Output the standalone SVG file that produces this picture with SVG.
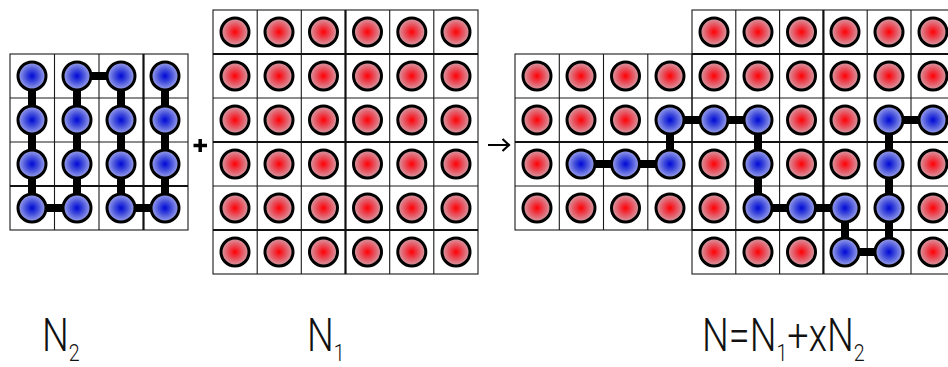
<svg xmlns="http://www.w3.org/2000/svg" xmlns:xlink="http://www.w3.org/1999/xlink" width="948" height="367" viewBox="0 0 948 367">
<style>
.thin{fill:none;stroke:#1a1a1a;stroke-width:1.1}
.thick{fill:none;stroke:#111;stroke-width:2.2}
.bond{fill:none;stroke:#000;stroke-width:8;stroke-linejoin:miter;stroke-linecap:butt}
.lbl{font-family:Roboto,"Liberation Sans",sans-serif;font-weight:300;font-size:46px;fill:#111}
.sub{font-size:24px}
.sym{fill:none;stroke:#000}
</style>
<defs>
<radialGradient id="rg" cx="0.5" cy="0.5" r="0.5">
<stop offset="0" stop-color="#ff0000"/>
<stop offset="0.3" stop-color="#f0303c"/>
<stop offset="1" stop-color="#d4a0aa"/>
</radialGradient>
<radialGradient id="bg" cx="0.5" cy="0.5" r="0.5">
<stop offset="0" stop-color="#0008d6"/>
<stop offset="0.4" stop-color="#3a46da"/>
<stop offset="1" stop-color="#a0a6ea"/>
</radialGradient>
<circle id="ra" r="14" fill="url(#rg)" stroke="#000" stroke-width="3"/>
<circle id="ba" r="14" fill="url(#bg)" stroke="#000" stroke-width="3"/>
</defs>
<rect width="948" height="367" fill="#fff"/>

<g id="grid-n2">
<rect x="10" y="54" width="178" height="176" class="thin"/>
<path class="thin" d="M54.5 54V230M99 54V230M10 98H188M10 142H188"/>
<path class="thick" d="M143.5 54V230M10 186H188"/>
</g>
<g id="grid-n1">
<rect x="213" y="10" width="265" height="264" class="thin"/>
<path class="thin" d="M257.2 10V274M301.3 10V274M389.7 10V274M433.8 10V274M213 98H478M213 186H478"/>
<path class="thick" d="M345.5 10V274M213 54H478M213 142H478M213 230H478"/>
</g>
<g id="grid-mix">
<rect x="515" y="54" width="177" height="176" class="thin"/>
<path class="thin" d="M559.3 54V230M603.5 54V230M647.8 54V230M515 98H692M515 186H692"/>
<path class="thick" d="M515 142H692"/>
<rect x="692" y="10" width="263" height="264" class="thin"/>
<path class="thin" d="M735.8 10V274M779.6 10V274M867.2 10V274M911 10V274M692 98H948M692 186H948"/>
<path class="thick" d="M823.4 10V274M692 54H948M692 142H948M692 230H948"/>
</g>

<g id="connectors">
<path class="bond" d="M32 76V208H77V76H121V208H165V76"/>
<path class="bond" d="M581 164H670V120H758V208H845V252H889V120H933"/>
</g>

<g id="atoms-n2">
<use xlink:href="#ba" x="32" y="76"/><use xlink:href="#ba" x="77" y="76"/><use xlink:href="#ba" x="121" y="76"/><use xlink:href="#ba" x="165" y="76"/>
<use xlink:href="#ba" x="32" y="120"/><use xlink:href="#ba" x="77" y="120"/><use xlink:href="#ba" x="121" y="120"/><use xlink:href="#ba" x="165" y="120"/>
<use xlink:href="#ba" x="32" y="164"/><use xlink:href="#ba" x="77" y="164"/><use xlink:href="#ba" x="121" y="164"/><use xlink:href="#ba" x="165" y="164"/>
<use xlink:href="#ba" x="32" y="208"/><use xlink:href="#ba" x="77" y="208"/><use xlink:href="#ba" x="121" y="208"/><use xlink:href="#ba" x="165" y="208"/>
</g>

<g id="atoms-n1">
<use xlink:href="#ra" x="235" y="32"/><use xlink:href="#ra" x="279" y="32"/><use xlink:href="#ra" x="323.5" y="32"/><use xlink:href="#ra" x="367.5" y="32"/><use xlink:href="#ra" x="411.8" y="32"/><use xlink:href="#ra" x="456" y="32"/>
<use xlink:href="#ra" x="235" y="76"/><use xlink:href="#ra" x="279" y="76"/><use xlink:href="#ra" x="323.5" y="76"/><use xlink:href="#ra" x="367.5" y="76"/><use xlink:href="#ra" x="411.8" y="76"/><use xlink:href="#ra" x="456" y="76"/>
<use xlink:href="#ra" x="235" y="120"/><use xlink:href="#ra" x="279" y="120"/><use xlink:href="#ra" x="323.5" y="120"/><use xlink:href="#ra" x="367.5" y="120"/><use xlink:href="#ra" x="411.8" y="120"/><use xlink:href="#ra" x="456" y="120"/>
<use xlink:href="#ra" x="235" y="164"/><use xlink:href="#ra" x="279" y="164"/><use xlink:href="#ra" x="323.5" y="164"/><use xlink:href="#ra" x="367.5" y="164"/><use xlink:href="#ra" x="411.8" y="164"/><use xlink:href="#ra" x="456" y="164"/>
<use xlink:href="#ra" x="235" y="208"/><use xlink:href="#ra" x="279" y="208"/><use xlink:href="#ra" x="323.5" y="208"/><use xlink:href="#ra" x="367.5" y="208"/><use xlink:href="#ra" x="411.8" y="208"/><use xlink:href="#ra" x="456" y="208"/>
<use xlink:href="#ra" x="235" y="252"/><use xlink:href="#ra" x="279" y="252"/><use xlink:href="#ra" x="323.5" y="252"/><use xlink:href="#ra" x="367.5" y="252"/><use xlink:href="#ra" x="411.8" y="252"/><use xlink:href="#ra" x="456" y="252"/>
</g>

<g id="atoms-mix">
<use xlink:href="#ra" x="537" y="76"/><use xlink:href="#ra" x="581" y="76"/><use xlink:href="#ra" x="625.5" y="76"/><use xlink:href="#ra" x="670" y="76"/>
<use xlink:href="#ra" x="537" y="120"/><use xlink:href="#ra" x="581" y="120"/><use xlink:href="#ra" x="625.5" y="120"/><use xlink:href="#ba" x="670" y="120"/>
<use xlink:href="#ra" x="537" y="164"/><use xlink:href="#ba" x="581" y="164"/><use xlink:href="#ba" x="625.5" y="164"/><use xlink:href="#ba" x="670" y="164"/>
<use xlink:href="#ra" x="537" y="208"/><use xlink:href="#ra" x="581" y="208"/><use xlink:href="#ra" x="625.5" y="208"/><use xlink:href="#ra" x="670" y="208"/>

<use xlink:href="#ra" x="714" y="32"/><use xlink:href="#ra" x="758" y="32"/><use xlink:href="#ra" x="801.5" y="32"/><use xlink:href="#ra" x="845" y="32"/><use xlink:href="#ra" x="889" y="32"/><use xlink:href="#ra" x="933" y="32"/>
<use xlink:href="#ra" x="714" y="76"/><use xlink:href="#ra" x="758" y="76"/><use xlink:href="#ra" x="801.5" y="76"/><use xlink:href="#ra" x="845" y="76"/><use xlink:href="#ra" x="889" y="76"/><use xlink:href="#ra" x="933" y="76"/>
<use xlink:href="#ba" x="714" y="120"/><use xlink:href="#ba" x="758" y="120"/><use xlink:href="#ra" x="801.5" y="120"/><use xlink:href="#ra" x="845" y="120"/><use xlink:href="#ba" x="889" y="120"/><use xlink:href="#ba" x="933" y="120"/>
<use xlink:href="#ra" x="714" y="164"/><use xlink:href="#ba" x="758" y="164"/><use xlink:href="#ra" x="801.5" y="164"/><use xlink:href="#ra" x="845" y="164"/><use xlink:href="#ba" x="889" y="164"/><use xlink:href="#ra" x="933" y="164"/>
<use xlink:href="#ra" x="714" y="208"/><use xlink:href="#ba" x="758" y="208"/><use xlink:href="#ba" x="801.5" y="208"/><use xlink:href="#ba" x="845" y="208"/><use xlink:href="#ba" x="889" y="208"/><use xlink:href="#ra" x="933" y="208"/>
<use xlink:href="#ra" x="714" y="252"/><use xlink:href="#ra" x="758" y="252"/><use xlink:href="#ra" x="801.5" y="252"/><use xlink:href="#ba" x="845" y="252"/><use xlink:href="#ba" x="889" y="252"/><use xlink:href="#ra" x="933" y="252"/>
</g>

<g id="plus-sign">
<path class="sym" stroke-width="3.5" d="M193.5 145.5H207M200.2 139V152"/>
</g>
<g id="arrow-sign">
<path class="sym" stroke-width="2.2" d="M488 145H509M502.5 139L509 145L502.5 151"/>
</g>

<g id="label-n2">
<text class="lbl" transform="translate(42 351) scale(0.82 1)">N<tspan class="sub" dy="9.5">2</tspan></text>
</g>
<g id="label-n1">
<text class="lbl" transform="translate(307 351) scale(0.82 1)">N<tspan class="sub" dy="9.5">1</tspan></text>
</g>
<g id="label-n">
<text class="lbl" transform="translate(702 351) scale(0.82 1)">N=N<tspan class="sub" dy="9.5">1</tspan><tspan dy="-9.5">+xN</tspan><tspan class="sub" dy="9.5">2</tspan></text>
</g>
</svg>
